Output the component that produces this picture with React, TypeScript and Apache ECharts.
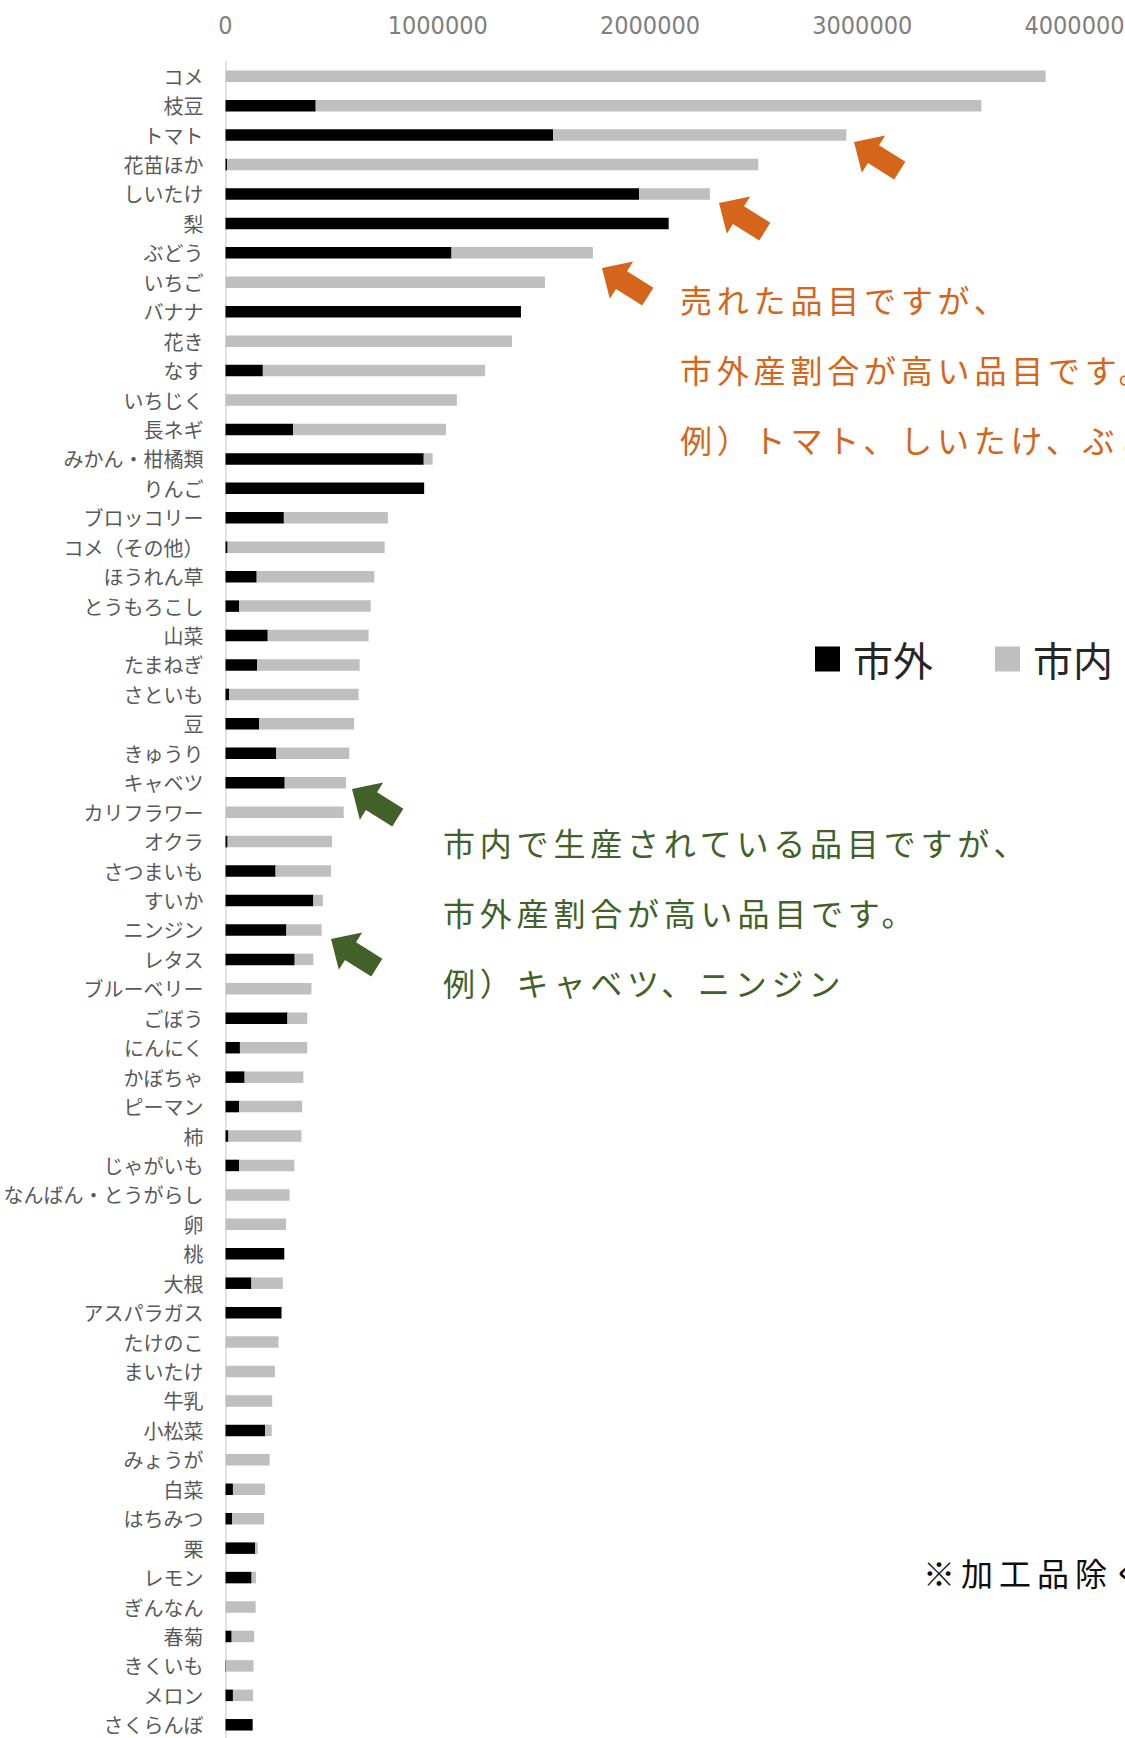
import React, { useEffect, useRef } from "react";
import * as echarts from "echarts";

// 品目（上から順）
const categories = [
  "コメ", "枝豆", "トマト", "花苗ほか", "しいたけ", "梨", "ぶどう", "いちご", "バナナ", "花き",
  "なす", "いちじく", "長ネギ", "みかん・柑橘類", "りんご", "ブロッコリー", "コメ（その他）", "ほうれん草", "とうもろこし", "山菜",
  "たまねぎ", "さといも", "豆", "きゅうり", "キャベツ", "カリフラワー", "オクラ", "さつまいも", "すいか", "ニンジン",
  "レタス", "ブルーベリー", "ごぼう", "にんにく", "かぼちゃ", "ピーマン", "柿", "じゃがいも", "なんばん・とうがらし", "卵",
  "桃", "大根", "アスパラガス", "たけのこ", "まいたけ", "牛乳", "小松菜", "みょうが", "白菜", "はちみつ",
  "栗", "レモン", "ぎんなん", "春菊", "きくいも", "メロン", "さくらんぼ",
];

// 市外
const outsideValues = [
  0, 425000, 1544000, 8000, 1949000, 2088000, 1065000, 0, 1392000, 0,
  176000, 0, 319000, 934000, 936000, 275000, 10000, 147000, 64000, 199000,
  149000, 17000, 159000, 238000, 279000, 0, 10000, 236000, 414000, 287000,
  326000, 0, 292000, 68000, 90000, 64000, 14000, 64000, 0, 0,
  277000, 122000, 264000, 0, 0, 0, 187000, 0, 35000, 32000,
  140000, 123000, 0, 29000, 2000, 35000, 128000,
];

// 市内
const insideValues = [
  3864000, 3136000, 1381000, 2502000, 333000, 0, 666000, 1505000, 0, 1350000,
  1047000, 1090000, 720000, 42000, 0, 490000, 740000, 554000, 620000, 475000,
  483000, 610000, 447000, 345000, 289000, 557000, 492000, 261000, 45000, 166000,
  88000, 405000, 93000, 317000, 277000, 297000, 344000, 260000, 302000, 285000,
  0, 148000, 0, 250000, 233000, 220000, 31000, 208000, 151000, 150000,
  12000, 21000, 142000, 106000, 130000, 95000, 0,
];

const seriesNames = ["市外", "市内"];
const seriesColors = ["#000000", "#bfbfbf"];

const axisMin = 0;
const axisMax = 4000000;
const axisInterval = 1000000;

const orangeNotes = ["売れた品目ですが、", "市外産割合が高い品目です。", "例）トマト、しいたけ、ぶどう"];
const greenNotes = ["市内で生産されている品目ですが、", "市外産割合が高い品目です。", "例）キャベツ、ニンジン"];
const footNote = "※加工品除く";

const ORANGE = "#d4651a";
const GREEN = "#416128";

function arrow(ax: number, ay: number, color: string) {
  const L = 54, H = 23, HW = 22, SW = 10.5;
  const th = (32 * Math.PI) / 180;
  const c = Math.cos(th), s = Math.sin(th);
  const local = [[0, 0], [H, -HW], [H, -SW], [L, -SW], [L, SW], [H, SW], [H, HW]];
  const pts = local.map(([u, v]) => [ax + u * c - v * s, ay + u * s + v * c]);
  return { type: "polygon", shape: { points: pts }, style: { fill: color }, silent: true };
}

function noteText(text: string, x: number, y: number, color: string, size: number, family: string) {
  return {
    type: "text",
    x,
    y,
    silent: true,
    style: {
      text,
      fill: color,
      fontSize: size,
      fontFamily: family,
      verticalAlign: "middle",
      align: "left",
    },
  };
}

export default function App() {
  const ref = useRef<HTMLDivElement>(null);

  useEffect(() => {
    if (!ref.current) return;
    const chart = echarts.init(ref.current, null, { renderer: "svg" });
    const annotFont = "'Noto Sans CJK JP', lsA";
    const noteFont = "'Noto Sans CJK JP', lsB";
    const option: any = {
      animation: false,
      backgroundColor: "#ffffff",
      grid: {
        left: 225.5,
        top: 61.5,
        width: 849,
        height: 1678,
        containLabel: false,
        outerBoundsMode: "none",
      },
      legend: {
        data: seriesNames,
        left: 815,
        top: 639,
        padding: 0,
        itemWidth: 25,
        itemHeight: 25,
        itemGap: 62,
        icon: "rect",
        selectedMode: false,
        textStyle: {
          fontSize: 40,
          color: "#262626",
          fontFamily: "'Noto Sans CJK JP'",
          padding: [0, 0, 0, 8],
        },
      },
      xAxis: {
        type: "value",
        position: "top",
        min: axisMin,
        max: axisMax,
        interval: axisInterval,
        axisLine: { show: false },
        axisTick: { show: false },
        splitLine: { show: false },
        axisLabel: {
          color: "#808080",
          fontSize: 25,
          fontFamily: "'Liberation Sans Narrow', 'DejaVu Sans Condensed', 'Roboto Condensed', 'Liberation Sans', sans-serif",
          margin: 24,
          formatter: (v: number) => String(v),
        },
      },
      yAxis: {
        type: "category",
        data: categories,
        inverse: true,
        axisLine: { show: true, lineStyle: { color: "#d9d9d9", width: 1.5 } },
        axisTick: { show: false },
        splitLine: { show: false },
        axisLabel: {
          color: "#595959",
          fontSize: 20,
          fontFamily: "'Noto Sans CJK JP'",
          margin: 22,
          interval: 0,
        },
      },
      series: [
        {
          name: seriesNames[0],
          type: "bar",
          stack: "total",
          barWidth: 11.5,
          itemStyle: { color: seriesColors[0] },
          data: outsideValues,
        },
        {
          name: seriesNames[1],
          type: "bar",
          stack: "total",
          barWidth: 11.5,
          itemStyle: { color: seriesColors[1] },
          data: insideValues,
        },
      ],
      graphic: [
        arrow(854, 142, ORANGE),
        arrow(719, 203, ORANGE),
        arrow(602, 268, ORANGE),
        arrow(352, 789, GREEN),
        arrow(331, 939, GREEN),
        noteText(orangeNotes[0], 680, 298.5, ORANGE, 32, annotFont),
        noteText(orangeNotes[1], 680, 368.5, ORANGE, 32, annotFont),
        noteText(orangeNotes[2], 680, 438.5, ORANGE, 32, annotFont),
        noteText(greenNotes[0], 443, 842, GREEN, 32, annotFont),
        noteText(greenNotes[1], 443, 912, GREEN, 32, annotFont),
        noteText(greenNotes[2], 443, 982, GREEN, 32, annotFont),
        noteText(footNote, 923, 1572, "#0d0d0d", 32, noteFont),
      ],
    };
    chart.setOption(option);
    return () => chart.dispose();
  }, []);

  return (
    <>
      <style>{`
        text[style*="lsA"] { letter-spacing: 4.8px; }
        text[style*="lsB"] { letter-spacing: 6px; }
      `}</style>
      <div
        ref={ref}
        style={{ position: "absolute", left: 0, top: 0, width: 1125, height: 1738, background: "#fff" }}
      />
    </>
  );
}
